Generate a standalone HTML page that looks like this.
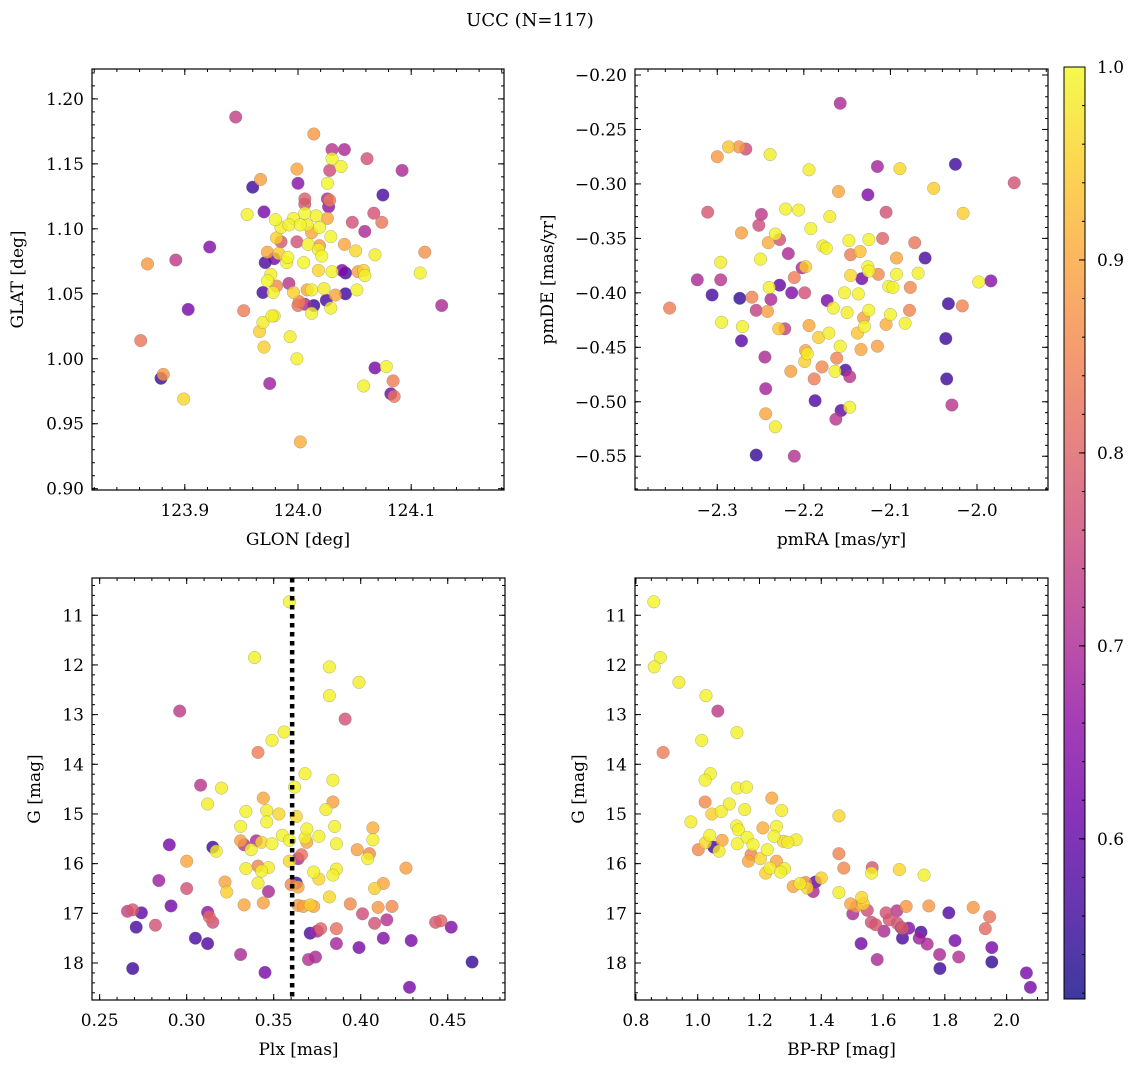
<!DOCTYPE html>
<html><head><meta charset="utf-8"><style>
html,body{margin:0;padding:0;background:#fff}
svg{display:block}
text{font-family:"DejaVu Serif","Liberation Serif",serif;fill:#000}
</style></head><body>
<svg id="fig" width="1136" height="1067" viewBox="0 0 1136 1067" xmlns="http://www.w3.org/2000/svg">
<text x="530" y="26" font-size="18" text-anchor="middle">UCC (N=117)</text>
</svg>
<script>
// ---- Panel 1: GLON vs GLAT ----
const p1Glon=[123.945,124.014,124.030,124.041,124.030,124.061,124.038,124.092,123.999,124.028,123.967,123.960,124.000,124.026,124.075,124.006,124.006,124.026,124.028,124.027,123.955,123.970,123.980,123.996,124.006,124.016,124.026,123.985,123.992,124.002,124.008,124.019,124.048,124.067,124.074,124.059,124.012,123.981,123.985,123.999,124.009,124.019,124.018,124.029,124.041,123.973,123.983,124.051,124.068,124.112,124.021,123.991,123.979,123.971,123.990,124.005,123.922,123.892,123.867,124.018,124.030,124.039,124.042,124.053,124.058,124.059,124.108,123.976,123.973,123.992,123.981,123.969,123.978,123.996,124.008,124.012,124.023,124.042,124.033,124.052,124.001,124.006,124.014,124.000,124.025,124.029,124.012,124.127,123.903,123.952,123.979,123.977,123.969,123.966,123.993,123.970,123.861,123.999,124.068,124.078,123.879,123.881,123.975,124.084,124.058,124.082,124.085,123.899,124.002];
const p1Glat=[1.186,1.173,1.161,1.161,1.154,1.154,1.148,1.145,1.146,1.145,1.138,1.132,1.135,1.135,1.126,1.123,1.119,1.123,1.122,1.117,1.111,1.113,1.107,1.108,1.112,1.110,1.108,1.101,1.103,1.103,1.103,1.101,1.105,1.112,1.105,1.098,1.097,1.093,1.090,1.090,1.088,1.087,1.084,1.094,1.088,1.082,1.081,1.083,1.080,1.082,1.079,1.078,1.077,1.074,1.074,1.074,1.086,1.076,1.073,1.068,1.067,1.068,1.066,1.067,1.068,1.064,1.066,1.065,1.060,1.058,1.056,1.051,1.051,1.051,1.053,1.053,1.054,1.050,1.049,1.053,1.044,1.042,1.041,1.041,1.045,1.039,1.035,1.041,1.038,1.037,1.033,1.033,1.028,1.021,1.017,1.009,1.014,1.000,0.993,0.994,0.985,0.988,0.981,0.983,0.979,0.973,0.971,0.969,0.936];
const p1Prob=[0.74,0.88,0.72,0.70,0.995,0.77,0.99,0.70,0.90,0.76,0.89,0.56,0.65,0.995,0.57,0.79,0.78,0.70,0.84,0.66,0.99,0.63,0.995,0.99,0.995,0.99,0.90,0.985,0.99,0.995,0.985,0.995,0.77,0.77,0.83,0.70,0.90,0.95,0.78,0.77,0.99,0.88,0.99,0.995,0.90,0.90,0.95,0.96,0.985,0.87,0.995,0.995,0.62,0.57,0.99,0.995,0.64,0.73,0.88,0.96,0.99,0.64,0.56,0.89,0.95,0.99,0.99,0.985,0.995,0.72,0.86,0.57,0.99,0.95,0.90,0.99,0.985,0.56,0.90,0.99,0.84,0.70,0.56,0.82,0.57,0.99,0.99,0.70,0.63,0.84,0.985,0.99,0.985,0.95,0.985,0.95,0.83,0.99,0.63,0.99,0.56,0.88,0.68,0.84,0.99,0.62,0.83,0.96,0.91];
const p1XTicks=["123.9","124.0","124.1"];
const p1YTicks=["0.90","0.95","1.00","1.05","1.10","1.15","1.20"];

// ---- Panel 2: pmRA vs pmDE ----
const p2Pmra=[-2.158,-2.300,-2.287,-2.275,-2.267,-2.239,-2.194,-2.115,-2.089,-2.025,-1.957,-2.160,-2.126,-2.050,-2.311,-2.249,-2.221,-2.206,-2.170,-2.105,-2.016,-2.252,-2.192,-2.272,-2.233,-2.228,-2.241,-2.148,-2.125,-2.109,-2.072,-2.178,-2.174,-2.218,-2.146,-2.135,-2.093,-2.060,-2.296,-2.250,-2.202,-2.198,-2.126,-2.125,-2.146,-2.114,-2.093,-2.068,-2.323,-2.296,-2.211,-2.133,-1.998,-1.984,-2.228,-2.240,-2.214,-2.199,-2.153,-2.137,-2.102,-2.097,-2.077,-2.306,-2.274,-2.260,-2.238,-2.173,-2.355,-2.033,-2.017,-2.255,-2.242,-2.166,-2.150,-2.125,-2.078,-2.100,-2.295,-2.271,-2.222,-2.229,-2.194,-2.131,-2.130,-2.105,-2.083,-2.171,-2.183,-2.138,-2.272,-2.036,-2.158,-2.134,-2.115,-2.198,-2.196,-2.245,-2.162,-2.199,-2.179,-2.215,-2.164,-2.152,-2.147,-2.188,-2.035,-2.244,-2.187,-2.157,-2.147,-2.029,-2.244,-2.163,-2.233,-2.255,-2.211];
const p2Pmde=[-0.226,-0.275,-0.266,-0.266,-0.268,-0.273,-0.287,-0.284,-0.286,-0.282,-0.299,-0.307,-0.310,-0.304,-0.326,-0.328,-0.323,-0.324,-0.330,-0.326,-0.327,-0.338,-0.341,-0.345,-0.346,-0.351,-0.354,-0.352,-0.351,-0.350,-0.354,-0.357,-0.359,-0.364,-0.365,-0.362,-0.368,-0.368,-0.372,-0.369,-0.377,-0.376,-0.376,-0.380,-0.384,-0.383,-0.383,-0.382,-0.388,-0.388,-0.386,-0.387,-0.390,-0.389,-0.393,-0.395,-0.400,-0.400,-0.400,-0.401,-0.394,-0.395,-0.395,-0.402,-0.405,-0.404,-0.406,-0.407,-0.414,-0.410,-0.412,-0.416,-0.417,-0.414,-0.418,-0.416,-0.416,-0.420,-0.427,-0.431,-0.433,-0.433,-0.430,-0.423,-0.431,-0.429,-0.428,-0.437,-0.441,-0.437,-0.444,-0.442,-0.449,-0.452,-0.449,-0.453,-0.456,-0.459,-0.460,-0.463,-0.468,-0.472,-0.472,-0.471,-0.477,-0.479,-0.479,-0.488,-0.499,-0.508,-0.505,-0.503,-0.511,-0.516,-0.523,-0.549,-0.550];
const p2Prob=[0.70,0.88,0.94,0.88,0.76,0.985,0.985,0.69,0.96,0.56,0.77,0.90,0.64,0.95,0.78,0.73,0.99,0.99,0.985,0.77,0.95,0.76,0.99,0.89,0.99,0.77,0.91,0.99,0.99,0.80,0.83,0.985,0.99,0.70,0.84,0.93,0.90,0.57,0.985,0.99,0.70,0.95,0.99,0.99,0.96,0.86,0.99,0.99,0.70,0.72,0.84,0.62,0.99,0.65,0.60,0.99,0.64,0.77,0.99,0.99,0.99,0.99,0.86,0.57,0.55,0.85,0.70,0.63,0.84,0.56,0.85,0.74,0.89,0.99,0.985,0.99,0.85,0.99,0.99,0.99,0.74,0.94,0.90,0.89,0.99,0.91,0.99,0.985,0.95,0.94,0.59,0.56,0.99,0.90,0.89,0.90,0.985,0.70,0.85,0.95,0.86,0.89,0.99,0.58,0.72,0.84,0.56,0.69,0.58,0.60,0.99,0.72,0.90,0.72,0.985,0.55,0.71];
const p2XTicks=["\u22122.3","\u22122.2","\u22122.1","\u22122.0"];
const p2YTicks=["\u22120.55","\u22120.50","\u22120.45","\u22120.40","\u22120.35","\u22120.30","\u22120.25","\u22120.20"];

// ---- Panel 3: Plx vs G ----
const p3Plx=[0.359,0.339,0.382,0.399,0.382,0.296,0.391,0.356,0.349,0.341,0.368,0.384,0.308,0.320,0.362,0.344,0.384,0.312,0.380,0.334,0.346,0.353,0.363,0.346,0.331,0.369,0.385,0.407,0.407,0.355,0.368,0.376,0.290,0.331,0.333,0.340,0.343,0.349,0.359,0.369,0.386,0.315,0.317,0.337,0.398,0.405,0.404,0.366,0.364,0.300,0.359,0.334,0.341,0.343,0.347,0.373,0.376,0.384,0.386,0.426,0.284,0.322,0.341,0.363,0.360,0.364,0.413,0.408,0.300,0.323,0.347,0.382,0.333,0.344,0.364,0.367,0.371,0.373,0.394,0.410,0.418,0.291,0.266,0.269,0.274,0.312,0.313,0.401,0.408,0.415,0.315,0.443,0.446,0.452,0.282,0.271,0.377,0.375,0.371,0.386,0.305,0.413,0.429,0.312,0.386,0.399,0.331,0.370,0.374,0.269,0.345,0.464,0.428];
const p3G=[10.73,11.85,12.04,12.35,12.62,12.93,13.09,13.35,13.52,13.76,14.19,14.32,14.42,14.48,14.46,14.68,14.76,14.80,14.91,14.95,14.93,15.00,15.05,15.16,15.25,15.30,15.25,15.28,15.52,15.43,15.48,15.45,15.62,15.54,15.62,15.54,15.57,15.60,15.53,15.57,15.60,15.67,15.75,15.72,15.72,15.80,15.90,15.82,15.90,15.95,15.95,16.10,16.05,16.15,16.08,16.17,16.31,16.23,16.11,16.09,16.34,16.37,16.39,16.39,16.42,16.47,16.40,16.50,16.50,16.57,16.56,16.67,16.83,16.79,16.84,16.86,16.83,16.86,16.81,16.88,16.86,16.85,16.96,16.93,16.99,16.98,17.07,17.01,17.20,17.13,17.18,17.18,17.15,17.28,17.24,17.28,17.31,17.36,17.40,17.31,17.50,17.50,17.55,17.61,17.61,17.69,17.83,17.93,17.88,18.11,18.19,17.98,18.49];
const p3Prob=[0.995,0.99,0.99,0.985,0.99,0.73,0.77,0.99,0.99,0.84,0.99,0.99,0.72,0.985,0.995,0.90,0.89,0.985,0.985,0.99,0.985,0.96,0.96,0.99,0.99,0.99,0.99,0.91,0.99,0.99,0.985,0.99,0.63,0.89,0.72,0.70,0.96,0.99,0.99,0.90,0.99,0.56,0.985,0.99,0.89,0.86,0.99,0.82,0.70,0.90,0.96,0.985,0.85,0.99,0.985,0.99,0.96,0.99,0.985,0.89,0.68,0.90,0.985,0.56,0.86,0.90,0.90,0.95,0.77,0.95,0.70,0.96,0.90,0.89,0.89,0.89,0.95,0.90,0.86,0.88,0.86,0.62,0.74,0.78,0.60,0.66,0.81,0.76,0.77,0.71,0.76,0.78,0.80,0.64,0.77,0.57,0.80,0.70,0.58,0.82,0.57,0.64,0.63,0.58,0.69,0.63,0.70,0.71,0.70,0.56,0.63,0.55,0.63];
const p3PlxRef=[0.3606];
const p3XTicks=["0.25","0.30","0.35","0.40","0.45"];
const magTicks=["11","12","13","14","15","16","17","18"];

// ---- Panel 4: BP-RP vs G ----
const p4Bprp=[0.858,0.879,0.859,0.939,1.027,1.065,1.127,1.013,0.888,1.041,1.024,1.128,1.158,1.240,1.024,1.102,1.152,1.272,1.046,1.076,1.457,0.978,1.126,1.132,1.211,1.255,1.039,1.160,1.247,1.319,1.025,1.079,1.128,1.179,1.277,1.292,1.052,1.069,1.002,1.225,1.173,1.203,1.164,1.457,1.255,1.234,1.281,1.268,1.220,1.473,1.565,1.563,1.653,1.733,1.400,1.309,1.331,1.349,1.381,1.354,1.374,1.457,1.495,1.514,1.531,1.536,1.549,1.502,1.675,1.748,1.892,1.945,1.931,1.813,1.610,1.645,1.562,1.576,1.620,1.646,1.662,1.659,1.683,1.603,1.723,1.717,1.663,1.743,1.529,1.833,1.783,1.845,1.581,1.784,1.952,1.952,2.064,2.077];
const p4G=[10.73,11.85,12.04,12.35,12.62,12.93,13.36,13.52,13.76,14.19,14.32,14.48,14.46,14.68,14.76,14.80,14.91,14.93,15.00,14.95,15.04,15.16,15.24,15.32,15.28,15.25,15.43,15.47,15.45,15.52,15.58,15.53,15.60,15.62,15.55,15.57,15.67,15.75,15.72,15.72,15.82,15.90,15.95,15.80,15.95,16.09,16.10,16.17,16.19,16.09,16.08,16.19,16.12,16.23,16.29,16.46,16.40,16.38,16.37,16.49,16.56,16.58,16.81,16.86,16.68,16.81,16.94,17.01,16.86,16.85,16.88,17.07,17.31,16.99,16.99,16.95,17.18,17.23,17.13,17.20,17.30,17.29,17.30,17.36,17.38,17.50,17.50,17.62,17.61,17.55,17.83,17.88,17.93,18.11,17.69,17.98,18.20,18.49];
const p4Prob=[0.995,0.99,0.99,0.985,0.99,0.73,0.99,0.99,0.84,0.99,0.99,0.99,0.99,0.90,0.86,0.985,0.985,0.985,0.95,0.985,0.96,0.985,0.99,0.99,0.91,0.99,0.99,0.99,0.99,0.985,0.96,0.90,0.99,0.99,0.96,0.985,0.56,0.985,0.86,0.99,0.85,0.96,0.90,0.85,0.90,0.985,0.985,0.99,0.95,0.86,0.78,0.99,0.96,0.99,0.95,0.90,0.985,0.86,0.60,0.96,0.70,0.985,0.90,0.89,0.96,0.95,0.76,0.70,0.88,0.88,0.88,0.83,0.81,0.58,0.77,0.72,0.77,0.78,0.78,0.77,0.80,0.57,0.64,0.70,0.57,0.68,0.57,0.70,0.62,0.63,0.70,0.71,0.70,0.56,0.63,0.55,0.63,0.63];
const p4XTicks=["0.8","1.0","1.2","1.4","1.6","1.8","2.0"];

// ---- Colorbar ----
const cbTicks=["0.6","0.7","0.8","0.9","1.0"];
const cbMin=0.517, cbMax=1.0;

const NS="http://www.w3.org/2000/svg";
const svg=document.getElementById('fig');
const FS=17;
function mk(tag,attrs,parent){const e=document.createElementNS(NS,tag);for(const k in attrs)e.setAttribute(k,attrs[k]);(parent||svg).appendChild(e);return e;}

const plasma=[[13,8,135],[65,4,157],[106,0,168],[143,13,164],[177,42,144],[204,71,120],[225,100,98],[242,132,75],[252,166,54],[252,206,37],[240,249,33]];
function cmap(p){let t=(p-cbMin)/(cbMax-cbMin);t=Math.max(0,Math.min(1,t))*10;const i=Math.min(9,Math.floor(t)),f=t-i;const a=plasma[i],b=plasma[i+1];return 'rgb('+a.map((v,j)=>Math.round(v+(b[j]-v)*f)).join(',')+')';}

function lin(d0,d1,r0,r1){return v=>r0+(v-d0)/(d1-d0)*(r1-r0);}

function panel(cfg){
  const g=mk('g',{});
  
  
  const {x0,x1,y0,y1}=cfg;
  const sx=lin(cfg.xd[0],cfg.xd[1],x0,x1), sy=lin(cfg.yd[0],cfg.yd[1],y1,y0);
  const clipId='clip-'+cfg.name;
  const cp=mk('clipPath',{id:clipId},g);mk('rect',{x:x0,y:y0,width:x1-x0,height:y1-y0},cp);
  const pts=mk('g',{'clip-path':'url(#'+clipId+')'},g);
  
  
  const idx=cfg.xs.map((_,i)=>i).sort((a,b)=>cfg.c[a]-cfg.c[b]);
  idx.forEach(i=>{
    const c=mk('circle',{cx:sx(cfg.xs[i]).toFixed(1),cy:sy(cfg.ys[i]).toFixed(1),r:6.3,fill:cmap(cfg.c[i]),'fill-opacity':0.8,stroke:'#777','stroke-width':0.4,'stroke-opacity':0.7},pts);
    
    
  });
  if(cfg.vline){cfg.vline.forEach(v=>{const l=mk('line',{x1:sx(v),x2:sx(v),y1:y0,y2:y1,stroke:'#000','stroke-width':4.5,'stroke-dasharray':'4.5 4.5'},g);
    
    });}
  const tk=mk('g',{stroke:'#000','stroke-width':1},g);
  function xt(v,len){const X=sx(v);if(X<x0-0.1||X>x1+0.1)return;mk('line',{x1:X,x2:X,y1:y1,y2:y1-len},tk);mk('line',{x1:X,x2:X,y1:y0,y2:y0+len},tk);}
  function yt(v,len){const Y=sy(v);if(Y<y0-0.1||Y>y1+0.1)return;mk('line',{x1:x0,x2:x0+len,y1:Y,y2:Y},tk);mk('line',{x1:x1,x2:x1-len,y1:Y,y2:Y},tk);}
  for(let v=Math.ceil(cfg.xd[0]/cfg.xmin-1e-6)*cfg.xmin;v<=cfg.xd[1];v+=cfg.xmin)xt(v,3);
  for(let v=Math.ceil(Math.min(...cfg.yd)/cfg.ymin-1e-6)*cfg.ymin;v<=Math.max(...cfg.yd);v+=cfg.ymin)yt(v,3);
  cfg.xTicks.forEach(s=>{const v=parseFloat(s.replace('\u2212','-'));xt(v,6);
    const t=mk('text',{x:sx(v),y:y1+26,'font-size':FS,'text-anchor':'middle'},g);t.textContent=s;
    
    });
  cfg.yTicks.forEach(s=>{const v=parseFloat(s.replace('\u2212','-'));yt(v,6);
    const t=mk('text',{x:x0-8,y:sy(v)+6,'font-size':FS,'text-anchor':'end'},g);t.textContent=s;
    
    });
  const fr=mk('rect',{x:x0,y:y0,width:x1-x0,height:y1-y0,fill:'none',stroke:'#000','stroke-width':1.2},g);
  
  
  const xl=mk('text',{x:(x0+x1)/2,y:y1+55,'font-size':FS,'text-anchor':'middle'},g);xl.textContent=cfg.xlabel;
  
  
  const yx=cfg.ylx, yy=(y0+y1)/2;
  const yl=mk('text',{x:yx,y:yy,'font-size':FS,'text-anchor':'middle',transform:'rotate(-90 '+yx+' '+yy+')'},g);yl.textContent=cfg.ylabel;
  
  
}

panel({name:'glon-glat-panel',x0:92,x1:504,y0:69,y1:490,xd:[123.818,124.182],yd:[0.899,1.223],xs:p1Glon,ys:p1Glat,c:p1Prob,xTicks:p1XTicks,yTicks:p1YTicks,xmin:0.02,ymin:0.01,xlabel:'GLON [deg]',ylabel:'GLAT [deg]',ylx:23});
panel({name:'pm-panel',x0:635,x1:1048,y0:69,y1:490,xd:[-2.395,-1.918],yd:[-0.581,-0.1945],xs:p2Pmra,ys:p2Pmde,c:p2Prob,xTicks:p2XTicks,yTicks:p2YTicks,xmin:0.02,ymin:0.01,xlabel:'pmRA [mas/yr]',ylabel:'pmDE [mas/yr]',ylx:553});
panel({name:'plx-g-panel',x0:92,x1:505,y0:578,y1:1000,xd:[0.2456,0.4829],yd:[18.745,10.25],xs:p3Plx,ys:p3G,c:p3Prob,xTicks:p3XTicks,yTicks:magTicks,xmin:0.01,ymin:0.2,xlabel:'Plx [mas]',ylabel:'G [mag]',ylx:40,vline:p3PlxRef});
panel({name:'cmd-panel',x0:635,x1:1048,y0:578,y1:1000,xd:[0.797,2.134],yd:[18.745,10.25],xs:p4Bprp,ys:p4G,c:p4Prob,xTicks:p4XTicks,yTicks:magTicks,xmin:0.05,ymin:0.2,xlabel:'BP-RP [mag]',ylabel:'G [mag]',ylx:584});

(function(){
  const g=mk('g',{});
  
  
  const cx0=1064,cx1=1085,cy0=67,cy1=999;
  const defs=mk('defs',{},g);
  const lg=mk('linearGradient',{id:'cbgrad',x1:0,y1:1,x2:0,y2:0},defs);
  plasma.forEach((c,i)=>mk('stop',{offset:i/10,'stop-color':'rgb('+c.join(',')+')','stop-opacity':0.8},lg));
  mk('rect',{x:cx0,y:cy0,width:cx1-cx0,height:cy1-cy0,fill:'url(#cbgrad)',stroke:'#000','stroke-width':1},g);
  const sy=lin(cbMin,cbMax,cy1,cy0);
  for(let v=0.52;v<=1.0001;v+=0.02)mk('line',{x1:cx1,x2:cx1-3,y1:sy(v),y2:sy(v),stroke:'#000'},g);
  cbTicks.forEach(s=>{const v=parseFloat(s);mk('line',{x1:cx1,x2:cx1-6,y1:sy(v),y2:sy(v),stroke:'#000'},g);
    const t=mk('text',{x:cx1+12,y:sy(v)+6,'font-size':FS},g);t.textContent=s;
    
    });
})();
</script>
</body></html>
